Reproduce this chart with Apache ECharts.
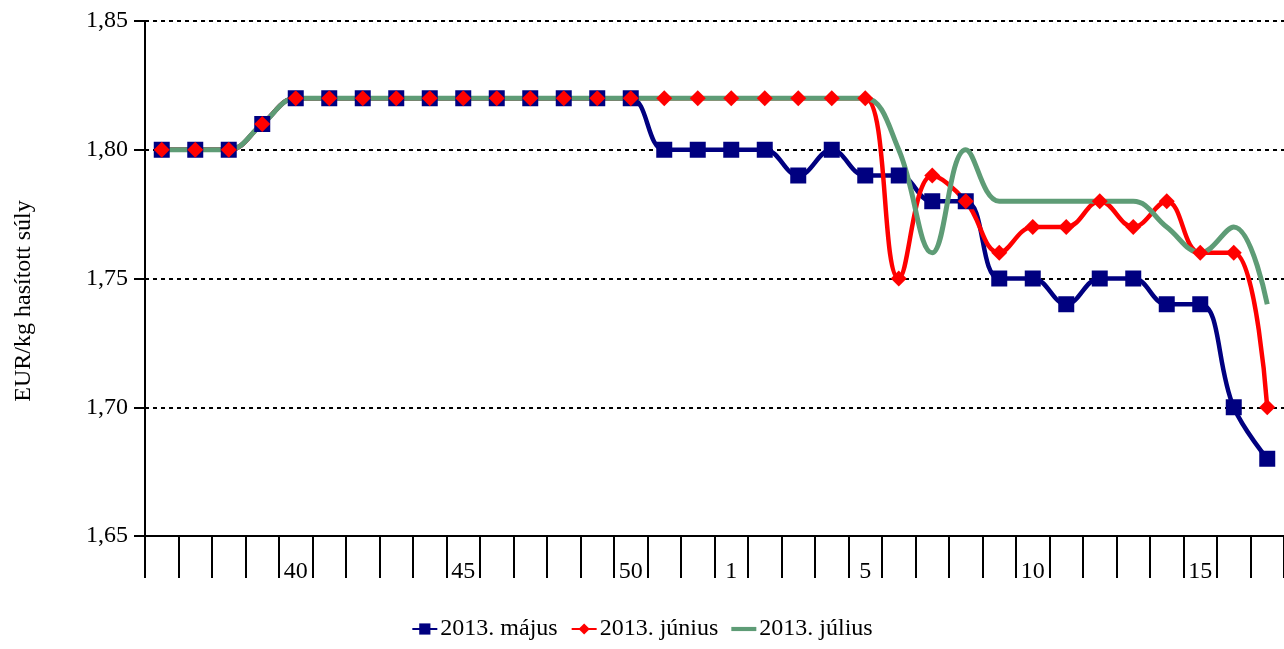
<!DOCTYPE html>
<html>
<head>
<meta charset="utf-8">
<script src="https://cdn.jsdelivr.net/npm/echarts@6/dist/echarts.min.js"></script>
<style>html,body{margin:0;padding:0;background:#fff}#c{width:1284px;height:649px}</style>
</head>
<body>
<div id="c"></div>
<script>
const weeks = ['36','37','38','39','40','41','42','43','44','45','46','47','48','49','50','51','52',
               '1','2','3','4','5','6','7','8','9','10','11','12','13','14','15','16','17'];
const shownLabels = ['40','45','50','1','5','10','15'];
const seriesNames = ['2013. május', '2013. június', '2013. július'];
const maj = [1.80,1.80,1.80,1.81,1.82,1.82,1.82,1.82,1.82,1.82,1.82,1.82,1.82,1.82,1.82,1.80,1.80,
             1.80,1.80,1.79,1.80,1.79,1.79,1.78,1.78,1.75,1.75,1.74,1.75,1.75,1.74,1.74,1.70,1.68];
const jun = [1.80,1.80,1.80,1.81,1.82,1.82,1.82,1.82,1.82,1.82,1.82,1.82,1.82,1.82,1.82,1.82,1.82,
             1.82,1.82,1.82,1.82,1.82,1.75,1.79,1.78,1.76,1.77,1.77,1.78,1.77,1.78,1.76,1.76,1.70];
const jul = [1.80,1.80,1.80,1.81,1.82,1.82,1.82,1.82,1.82,1.82,1.82,1.82,1.82,1.82,1.82,1.82,1.82,
             1.82,1.82,1.82,1.82,1.82,1.80,1.76,1.80,1.78,1.78,1.78,1.78,1.78,1.77,1.76,1.77,1.74];

const FONT = '"Liberation Serif", "Times New Roman", serif';
const BLUE = '#000080', RED = '#ff0000', GREEN = '#5e9c76';
const chart = echarts.init(document.getElementById('c'), null, {renderer: 'canvas'});
chart.setOption({
  animation: false,
  backgroundColor: '#fff',
  textStyle: {fontFamily: FONT, color: '#000'},
  grid: {left: 145, top: 21, width: 1148, height: 515},
  legend: {
    bottom: 3, left: 'center',
    itemWidth: 25, itemHeight: 14, itemGap: 13,
    textStyle: {fontFamily: FONT, fontSize: 24, color: '#000', padding: [0, 0, 0, -2]},
    data: [
      {name: seriesNames[0]},
      {name: seriesNames[1]},
      {name: seriesNames[2], icon: 'path://M0,0H30V5H0Z', itemStyle: {color: GREEN}}
    ]
  },
  graphic: [{
    type: 'text', x: 24, y: 301, rotation: Math.PI / 2,
    style: {text: 'EUR/kg hasított súly', font: '24px ' + FONT, fill: '#000', align: 'center', verticalAlign: 'middle'}
  }],
  xAxis: {
    type: 'category', data: weeks, boundaryGap: true,
    axisLine: {show: true, lineStyle: {color: '#000', width: 2}},
    axisTick: {show: true, interval: 0, length: 42, lineStyle: {color: '#000', width: 2}},
    axisLabel: {interval: 0, margin: 24, fontFamily: FONT, fontSize: 24, color: '#000',
      formatter: v => shownLabels.includes(v) ? v : ''},
    splitLine: {show: false}
  },
  yAxis: {
    type: 'value', min: 1.65, max: 1.85, interval: 0.05,
    axisLine: {show: true, lineStyle: {color: '#000', width: 2}},
    axisTick: {show: true, length: 11, lineStyle: {color: '#000', width: 2}},
    axisLabel: {margin: 17, fontFamily: FONT, fontSize: 24, color: '#000',
      formatter: v => v.toFixed(2).replace('.', ',')},
    splitLine: {show: true, lineStyle: {color: '#000', width: 2, type: [4, 4]}}
  },
  series: [
    {name: seriesNames[0], type: 'line', data: maj, smooth: 0.4,
     symbol: 'rect', symbolSize: 16, itemStyle: {color: BLUE},
     lineStyle: {color: BLUE, width: 4.5}},
    {name: seriesNames[1], type: 'line', data: jun, smooth: 0.4,
     symbol: 'diamond', symbolSize: 16, itemStyle: {color: RED},
     lineStyle: {color: RED, width: 4.5}},
    {name: seriesNames[2], type: 'line', data: jul, smooth: 0.4,
     symbol: 'none', itemStyle: {color: GREEN},
     lineStyle: {color: GREEN, width: 5}}
  ]
});
</script>
</body>
</html>
